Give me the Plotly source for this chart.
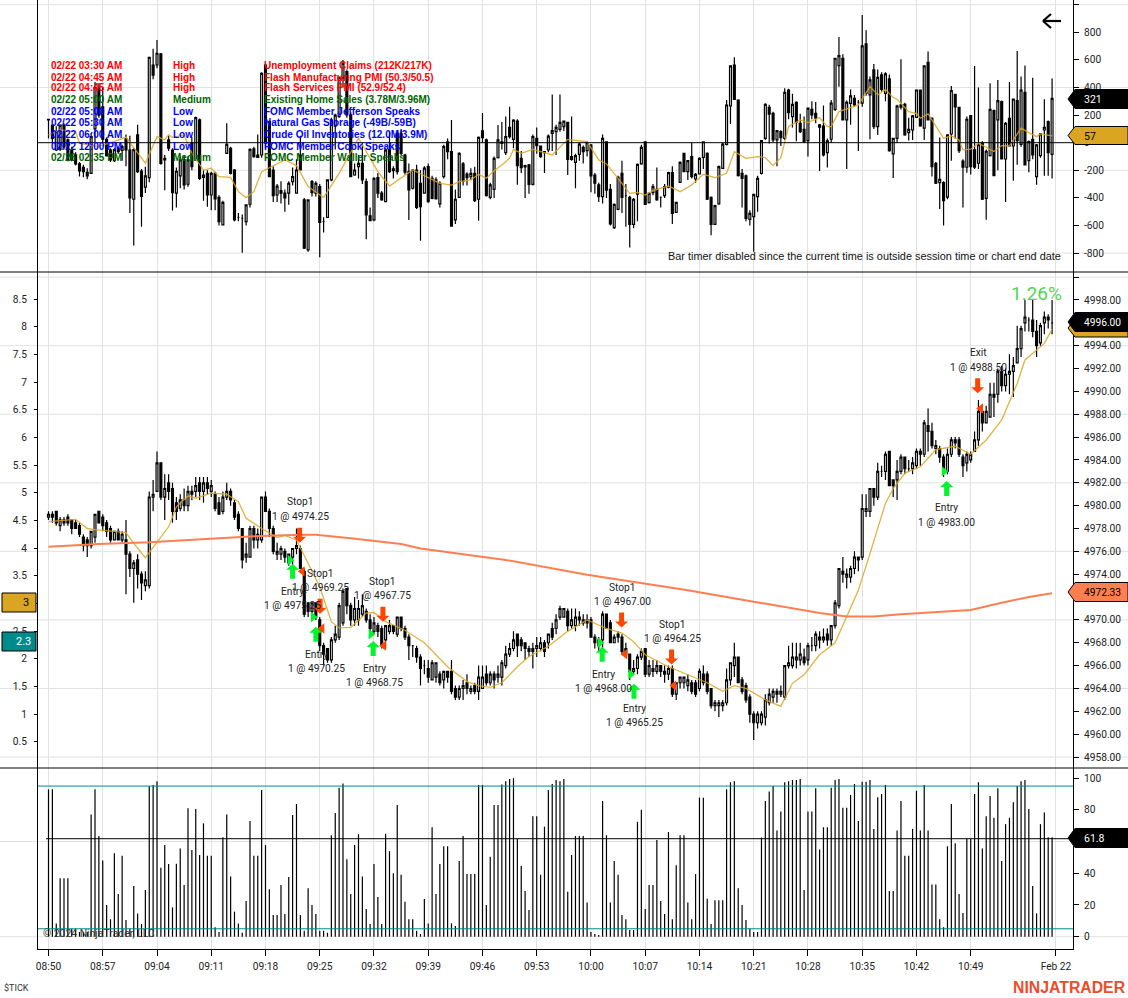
"""NinjaTrader style ES chart with $TICK panel and stochastic panel."""
import plotly.graph_objects as go

W, H = 1128, 998

mid_open = [
    4979,4979.25,4979.5,4978.25,4978.75,4979,4978.75,4978.5,4978.25,4977.25,
    4977,4976.5,4977.25,4979.5,4979,4978.5,4978,4977,4977.75,4977,
    4977,4975.75,4974.5,4975.25,4974,4973,4973,4980.75,4981.25,4983.75,
    4980.75,4982,4981.5,4980.25,4979.75,4980.5,4980,4981.25,4981.25,4982,
    4981.25,4982,4981.25,4981,4980.25,4979.5,4980.75,4981.25,4980.25,4979.25,
    4978,4975.5,4975.5,4978,4977,4977,4980.75,4979.5,4978,4975.75,
    4975.75,4976,4975.75,4975.5,4976.25,4976.25,4974.25,4971.5,4970.75,4971.5,
    4970,4967.75,4967.5,4966.5,4968.25,4968.5,4969.75,4972.75,4971.25,4970,
    4970,4970.5,4970.75,4970,4969,4969.5,4969.25,4968.25,4969,4969.5,
    4968.75,4970.25,4969.25,4968.5,4967.75,4967.5,4966.75,4966,4965.75,4964.75,
    4965,4965.25,4964.75,4965.5,4965.5,4964,4963.25,4964,4964.5,4963.75,
    4964.25,4963.75,4964,4965.25,4964.5,4965.25,4965,4965,4966,4967,
    4967.5,4968.75,4968.25,4968,4967.5,4967.5,4967.5,4967.5,4968,4968,
    4969.25,4969.25,4970.25,4970.25,4970.75,4969.5,4969.5,4970.25,4969.75,4970,
    4970,4968.5,4967.75,4968.25,4970.5,4969.75,4968,4968.75,4968.5,4967.5,
    4967,4965.5,4965.75,4966.75,4967.5,4965.25,4965.75,4965.5,4966,4965.5,
    4965.25,4965.75,4963.5,4964.5,4964.5,4964.25,4964.5,4964.5,4964,4965.25,
    4965.25,4964,4962.5,4962.5,4962.5,4962.75,4964.75,4966,4966.75,4964.75,
    4964.25,4963.25,4961.75,4961,4961,4961.5,4962.75,4963.25,4963.75,4963.5,
    4963.25,4966,4966,4966.5,4966.5,4966.75,4966.5,4967.75,4967.75,4968.5,
    4968.25,4968.75,4968.25,4969.5,4971.25,4974.25,4973.75,4973.75,4974.5,4975.5,
    4975.5,4979.5,4979.5,4981.5,4980.75,4983,4983,4984.75,4982.25,4982.25,
    4983,4984.25,4983.25,4983.25,4983.5,4984.75,4984.5,4987,4986.5,4985,
    4985,4984.25,4983,4984.5,4985.75,4985.75,4984.25,4983.75,4984,4984.75,
    4985.75,4988.25,4987.25,4987.75,4989.75,4989.75,4991.75,4990.5,4991.5,4991.75,
    4992.5,4993.75,4996,4996.25,4996.25,4995.25,4994.25,4996,4996.5,4996,
]
mid_close = [
    4979.25,4979,4978.5,4978.75,4978.5,4978.5,4978,4978,4977.5,4976.5,
    4976.5,4977.75,4979.25,4978.5,4978.25,4977.75,4977,4977.75,4977,4977.5,
    4975.75,4974.5,4975,4974,4973.25,4973.5,4980.75,4981,4983.75,4980.75,
    4981.5,4981.25,4979.5,4979.5,4980.5,4980,4981.25,4981,4981.75,4981.25,
    4982,4981.5,4981.75,4979.75,4979.25,4980.75,4981.25,4980.5,4979,4978,
    4975.25,4975.75,4978,4977,4977.5,4980.75,4979.5,4978,4976,4976,
    4976.25,4975.5,4975,4976.25,4976.5,4974.5,4970.5,4970.75,4971.5,4970.25,
    4967.75,4967,4966.5,4968.25,4968.75,4971.25,4972.5,4971.25,4970,4971,
    4971,4971.25,4970,4969.25,4969.75,4969,4967.75,4969.5,4969.5,4969,
    4970.25,4969.25,4968.5,4967.75,4967.75,4966.75,4965.75,4966,4965,4966.25,
    4966.25,4964.5,4965.5,4965,4963.75,4963.25,4964,4964.25,4964,4964,
    4963.75,4965,4965,4964.5,4965.25,4964.75,4965.25,4966.25,4967,4967.5,
    4968.25,4967.75,4967.75,4967.5,4967.25,4967.25,4967.75,4968,4967.25,4968.75,
    4968.5,4970,4971,4971,4969.5,4970,4970.25,4970,4970,4969.75,
    4968.5,4968,4968.25,4970.5,4969.25,4968,4968.5,4968.5,4967.25,4967,
    4965.5,4965.75,4966.75,4967.25,4965.25,4966,4965.5,4966,4965.5,4965.25,
    4965.75,4963.5,4964.5,4965,4965,4964.75,4963.75,4963.5,4965.5,4964.5,
    4963.75,4962.5,4962.75,4962.75,4962.75,4964.75,4966.25,4966.75,4964.5,4963.75,
    4963,4961.75,4961,4961.75,4961.75,4963,4963.5,4963.75,4963.5,4963.75,
    4966,4966.25,4966.75,4966.75,4967,4966.25,4967.75,4967.75,4968.75,4968.25,
    4968.5,4968.25,4969.5,4971.5,4974.5,4974,4974,4974.5,4975.5,4975.25,
    4979.75,4979.75,4981.5,4980.75,4983,4983,4984.5,4981.75,4981.75,4983,
    4984.25,4983.25,4983.25,4983.75,4984.75,4984.5,4987.25,4986.5,4985.25,4985.25,
    4984.25,4983.25,4984.5,4985.75,4985.5,4984.5,4983.5,4984.5,4984.5,4985.75,
    4988.25,4987.25,4988.25,4989.75,4989.5,4991.75,4990.5,4991.5,4991.75,4992.25,
    4993.75,4995.5,4996.5,4996.25,4995.25,4994,4995.75,4996.5,4996.25,4996,
]
mid_high = [
    4979.5,4979.5,4979.5,4979,4979,4979.25,4978.75,4978.75,4978.5,4977.5,
    4977.25,4977.75,4979.25,4979.5,4979.25,4978.75,4978.25,4977.75,4978,4977.75,
    4978.75,4976,4975.25,4975.75,4974.25,4974.25,4981.25,4982.25,4984.75,4983.75,
    4982.75,4982.75,4982,4980.75,4981,4981.5,4981.75,4981.75,4982.5,4982.5,
    4982.5,4982.5,4982.25,4981.25,4980.75,4981.25,4982,4981.5,4980.5,4979.5,
    4978,4976.75,4978.25,4978.25,4978,4980.75,4981.25,4979.75,4978.25,4976.75,
    4976.5,4976.25,4975.75,4976.25,4978,4976.5,4974.5,4971.5,4971.5,4971.5,
    4970.25,4968,4967.5,4968.5,4969.5,4971.5,4972.75,4972.75,4971.5,4972,
    4971.75,4972.25,4971,4970.5,4970.25,4969.75,4969.5,4969.5,4970,4969.5,
    4970.25,4970.25,4969.5,4968.75,4967.75,4967.75,4967,4966.5,4966.5,4966.5,
    4966.25,4965.5,4965.5,4965.5,4966.5,4964.25,4964.25,4964.75,4965.25,4964.25,
    4964.5,4966,4966,4966,4965.5,4965.5,4966,4966.5,4967.75,4968,
    4969,4968.75,4968.5,4968,4967.75,4968,4968.5,4968.5,4968.25,4968.75,
    4969.75,4970.5,4971.25,4971,4971,4971,4971,4970.75,4970.5,4970.5,
    4970.25,4968.75,4968.5,4970.75,4970.5,4970,4968.75,4969,4968.75,4968,
    4967,4966.5,4967,4967.5,4967.5,4966.5,4966.5,4966.5,4966,4966,
    4966,4966,4964.5,4965,4965,4965.25,4964.75,4964.75,4965.75,4966,
    4965.5,4964,4963,4963,4963,4965.75,4966.25,4968,4966.75,4965,
    4964.5,4963.5,4962,4962,4962,4963.5,4964,4964,4964,4964.25,
    4966,4967.75,4968,4968,4968,4967.5,4968,4968.5,4969,4969,
    4969.25,4969.25,4969.5,4971.75,4974.5,4975.5,4974.5,4974.75,4976,4975.5,
    4981,4981,4981.5,4981.5,4983.75,4983.5,4984.75,4984.75,4982.25,4984,
    4984.5,4984.25,4984,4984.25,4985,4985,4987.5,4988.5,4987.25,4985.75,
    4985.25,4984.5,4985,4986,4986,4986,4984.5,4984.75,4984.75,4986.5,
    4989.25,4988.75,4988.75,4990.75,4990.75,4992,4992.25,4992,4993.25,4993,
    4995.75,4995.75,4998,4996.5,4998,4996.25,4996,4997,4996.75,4998,
]
mid_low = [
    4978.75,4978.5,4978.25,4977.75,4978.25,4978.25,4977.5,4978,4977.25,4976,
    4975.5,4976.25,4976.75,4978.5,4977.75,4977.25,4976.75,4977,4977,4976.75,
    4972.25,4973.75,4971.5,4972.75,4971.75,4972.5,4972.75,4979.5,4981.25,4980.5,
    4978.75,4980.5,4978.5,4978.75,4979.5,4979.5,4979.5,4980.5,4980.75,4980.5,
    4980.25,4981,4980.75,4979.5,4979.25,4979.25,4980.5,4980,4978.75,4977.75,
    4974.5,4975,4975.5,4976.25,4976.25,4976.75,4979.5,4977.25,4975.75,4975.25,
    4975.25,4975,4974.75,4974.75,4975.75,4974.5,4970.25,4970.25,4970.25,4970,
    4967.25,4966,4966.25,4966.25,4968,4968.25,4969.5,4970.5,4969.5,4969.5,
    4969.5,4970.25,4969.75,4968.75,4968.75,4968.5,4967.5,4967.5,4968.75,4968.75,
    4968.5,4969,4968.25,4966.5,4966.75,4966.25,4964.25,4965.25,4964.5,4964.75,
    4964.5,4964.25,4964,4964.5,4963.5,4963,4963,4963,4963.5,4963.5,
    4963.5,4963,4964,4964.25,4964.25,4964,4964.5,4964.25,4965.75,4966.75,
    4967.25,4966.75,4967.25,4966.5,4966.75,4965.75,4966.75,4967.25,4966.75,4967.5,
    4968.25,4968.75,4970,4970.25,4969,4969.25,4969,4969.5,4969.5,4969.25,
    4968.5,4967.5,4967.25,4967.5,4969.25,4968,4968,4968,4967,4966.75,
    4964.75,4965.25,4965.25,4966.5,4965,4965,4965,4965.25,4965,4964.5,
    4964.75,4963.25,4963,4964,4964,4963.75,4963.5,4963.25,4963.75,4964.25,
    4963.5,4962.25,4962,4961.5,4962,4962.5,4964.25,4965,4964.5,4963.5,
    4962.75,4961,4959.5,4960.5,4960.75,4960.75,4962.5,4962.75,4962.75,4963.25,
    4963,4965.75,4965.75,4965.75,4966,4966,4966,4967.25,4967.25,4967.5,
    4968,4967.75,4967.75,4969.25,4971,4973.25,4972.75,4973.25,4974,4974.25,
    4975.25,4979,4979,4980,4980.5,4982.5,4982.25,4981.75,4980.75,4980.5,
    4982.75,4982.75,4983,4982.75,4983.25,4983.5,4984.25,4984.75,4985,4984.5,
    4983.75,4982.5,4982.75,4984.25,4985,4984.25,4982.5,4983,4983.75,4984.75,
    4985.25,4986.5,4987.25,4987.75,4987.75,4989,4990,4990,4989.75,4989.5,
    4992.5,4993,4995.25,4995.25,4994.75,4993,4994,4995,4995.5,4995,
]

top_open = [
    170,128,-53,-40,128,20,-53,-88,-153,-178,
    -215,-222,100,394,260,25,-53,-130,-40,-55,
    30,-53,-410,56,-205,-322,-253,563,563,643,
    -125,20,-53,-366,-241,-125,-301,0,-113,165,
    -251,-222,-379,-222,-396,-596,-77,-41,-198,-541,
    -548,-572,-446,-45,-89,-89,563,152,-198,-379,
    -347,-366,-366,-282,-366,-89,-415,-777,-282,-366,
    -318,-572,-541,-270,120,189,470,515,201,-234,
    -174,-150,-282,-530,-560,-253,-366,-427,-53,-202,
    68,68,-89,-210,-330,-198,-294,-366,-174,-258,
    -270,-444,-246,7,-65,-560,-396,-154,-227,-246,
    -222,-410,85,20,-396,-338,-109,7,-72,111,
    24,157,-113,-166,-161,-302,32,-24,-65,-53,
    68,80,97,116,147,-101,-142,-84,-34,-58,
    -17,-234,-306,-391,7,-338,-615,-483,-222,-384,
    -396,-592,-372,-154,7,-435,-362,-338,-396,-384,
    -323,-217,-505,-287,-77,-210,-101,-263,-227,-106,
    -77,-396,-592,-444,-186,-12,266,563,309,-222,
    -241,-555,-536,-391,-222,32,257,213,20,81,
    32,382,189,293,141,97,15,242,213,129,
    121,-72,25,242,559,612,165,285,322,293,
    286,716,346,527,117,491,358,462,-81,32,
    274,278,73,92,184,382,105,583,177,-149,
    -289,-289,-395,63,351,257,-133,-178,196,-52,
    -149,-4,-403,-93,233,165,298,-118,177,-24,
    305,-12,365,-130,25,-246,-93,92,153,-84,
]
top_close = [
    165,32,80,128,-30,-125,-125,-153,-205,-210,
    -240,44,400,200,25,-96,-125,-50,-65,-28,
    -53,-400,-50,-210,-390,-240,618,490,648,-150,
    -113,-40,-362,-207,-125,-306,-125,-174,181,-258,
    -234,-379,-222,-408,-572,-432,-12,-222,-560,-541,
    -548,-451,-48,-101,-106,503,-4,-246,-384,-314,
    -366,-400,-294,-246,-198,-198,-765,-415,-362,-294,
    -577,-572,-270,165,200,474,575,201,-246,-198,
    -150,-270,-524,-565,-258,-366,-415,-53,-210,-190,
    -210,-77,-214,-342,-198,-468,-463,-185,-427,-403,
    -408,-294,-29,-65,-604,-410,-77,-278,-253,-222,
    -420,39,36,-384,-306,-113,20,-5,44,44,
    164,-166,-181,-176,-302,44,-22,-101,-72,48,
    87,111,147,157,-121,-121,-94,-10,-65,0,
    -241,-294,-391,32,-343,-589,-447,-251,-396,-384,
    -592,-410,-157,-34,-447,-367,-318,-415,-396,-318,
    -217,-512,-432,-142,-210,-130,-246,-229,-113,7,
    -410,-592,-456,-174,-10,273,556,314,-239,-258,
    -548,-512,-374,-258,15,278,206,20,88,37,
    365,218,278,148,80,8,250,201,177,112,
    -89,13,286,612,631,165,293,339,274,293,
    701,358,455,117,474,387,498,-57,32,266,
    257,56,97,194,382,122,556,165,-174,-294,
    -265,-420,56,377,260,-57,-178,170,-173,-178,
    -15,-410,-62,242,-238,305,-118,141,-24,315,
    15,382,-161,8,-89,-16,64,112,-72,321,
]
top_high = [
    170,128,120,130,140,30,-30,-70,-140,-160,
    -185,70,440,430,400,40,-40,-40,-30,-15,
    60,50,-40,130,-190,-175,620,680,745,650,
    -90,50,-40,-180,-100,-90,-100,40,190,175,
    -200,-200,-210,-210,-380,-420,140,-30,-190,-510,
    -520,-450,-40,-30,60,510,570,160,-170,-300,
    -280,-340,-280,-180,-120,50,-400,-410,-270,-280,
    -300,-540,-265,180,210,480,600,530,220,-150,
    -90,0,-260,-470,-250,-220,-350,-40,80,-170,
    90,100,-80,-150,-190,-160,-200,-170,-150,-240,
    -250,-280,-15,30,165,-340,-70,-140,-215,-185,
    -175,45,215,30,-290,-100,128,150,190,260,
    170,170,-60,-160,-155,60,110,-20,-60,60,
    350,130,350,160,150,190,-80,0,-20,10,
    -10,-220,-290,60,10,-300,-440,-240,-130,-300,
    -385,-400,-150,-15,10,-360,-300,-180,-390,-300,
    -210,-170,-430,-135,-75,-125,0,-220,-105,10,
    -70,-390,-450,-165,0,310,560,620,315,-190,
    -230,-490,-370,-240,20,285,275,225,90,90,
    395,390,355,300,210,190,255,300,295,135,
    270,30,310,615,765,640,305,385,345,310,
    925,815,480,570,530,510,510,495,35,275,
    605,290,180,200,385,385,560,660,185,-140,
    37,-280,60,410,355,260,-120,190,200,555,
    400,10,-50,430,240,455,305,150,440,320,
    665,480,560,15,470,-10,70,315,160,466,
]
top_low = [
    30,-5,-60,-60,-50,-135,-135,-165,-245,-250,
    -265,-225,0,180,0,-100,-140,-140,-80,-130,
    -170,-510,-745,-220,-610,-365,-287,460,540,-160,
    -345,-60,-492,-470,-330,-340,-320,-200,-130,-270,
    -420,-465,-490,-490,-600,-600,-77,-230,-570,-570,
    -798,-600,-470,-110,-110,-110,-40,-250,-430,-430,
    -440,-500,-450,-310,-370,-200,-770,-790,-390,-390,
    -830,-650,-545,-280,-50,180,400,180,-250,-240,
    -260,-300,-700,-570,-570,-400,-420,-430,-220,-260,
    -230,-90,-230,-560,-340,-480,-710,-370,-435,-410,
    -410,-470,-260,-120,-610,-590,-400,-310,-310,-270,
    -430,-565,0,-390,-410,-400,-115,-50,-90,30,
    -40,-305,-220,-400,-370,-310,-80,-110,-220,-70,
    -60,-90,80,85,-235,-130,-330,-130,-150,-100,
    -360,-370,-430,-440,-400,-600,-625,-490,-510,-610,
    -760,-620,-570,-160,-450,-440,-380,-420,-470,-400,
    -330,-590,-510,-290,-215,-270,-260,-290,-230,-190,
    -415,-670,-595,-450,-190,-20,135,310,-245,-470,
    -570,-600,-790,-500,-230,20,-5,0,-170,-24,
    20,170,110,10,70,0,-100,170,140,-205,
    -100,-180,0,230,405,160,-190,130,260,-60,
    260,340,25,100,55,370,300,-65,-255,0,
    240,50,15,20,180,115,20,160,-245,-300,
    -480,-600,-410,-130,30,-75,-470,-218,-230,-190,
    -190,-415,-558,-100,-240,-200,-120,-430,-30,-275,
    -160,-30,-165,-215,-120,-305,-110,-240,-240,-260,
]

stoch = [
    93,93,8.4,36.8,36.8,36.8,5,5,3,3,
    3,77,93,63.5,48,20,11,52.6,27,51,
    10.5,5,32,14.7,8,29.4,95,95.7,98,43.5,
    57.8,45.8,18.5,46,55.7,32.6,81,54.7,80.5,51.5,
    71.5,51,51,6,3,62.7,77,38,15.8,8.4,
    2.5,22.5,73,51,51,92.5,57.8,30,13.7,13.7,
    32.6,14.3,37.6,76.8,83.7,13.7,3.8,30.5,20,14.3,
    3.8,3.8,2.5,64,78,94,96.7,48.8,27,57.8,
    64.6,38,17.5,8,45.8,25,8,65,54,40,
    83,39,22,11,11,3.8,1.7,23.8,8.4,69,
    27,45.8,57,57,8.4,6.7,47.7,63.5,39.5,39.5,
    39.5,95.7,95.7,20,50.5,83,83,96,98,99.5,
    100,61.6,44.6,28.8,16.8,76,76,39,69.4,92.5,
    96.3,98.8,98,99.5,28.4,51.5,63.5,63.5,63.5,21.5,
    3,1.7,1,85.6,64,21.5,47.7,39,13.7,11,
    4.2,4.2,72.5,80,17.5,32.6,32.6,61,22.5,14.3,
    66,11,45,64,64,21.5,11,39.5,87.7,87.7,
    24,8,23,23,23,93,97.4,98,30.5,20,
    10.5,5,3,3,62.5,85.6,91.5,95,67,79,
    97.4,98,98.8,98.8,99.5,29.4,79,79,93.6,55,
    69,69,94,98.8,99.5,81.4,81.4,89.4,96.3,73,
    97.8,97.8,98.8,68,88,90,95.7,28.8,28.8,67,
    85.6,51,51,68,92,67,95.7,67,33,33,
    11,6,57,83.7,59,27,15,61.6,61.6,90,
    97.4,55.7,76,88.7,75,93.6,47.7,71,75,84.8,
    95,98,98.8,80.5,32,14.7,71,78.4,62.7,62.7,
]

# bar number, value pairs for the moving averages
mid_gold_x = [0,7,10,12,20,22,25,28,31,33,36,38,42,46,49,51,55,59,61,64,67,70,73,75,78,82,84,87,92,97,
              103,108,111,114,117,121,124,129,134,139,144,148,151,154,160,165,170,174,177,180,185,189,
              192,195,199,203,206,209,212,216,218,221,225,229,234,238,242,246,250,252,257,259]
mid_gold_y = [4978.6,4978.8,4978,4977.9,4977.65,4976.7,4975.45,4976.85,4978.15,4979.9,4980.85,4980.65,4981.1,4981,
              4980.35,4978.9,4978,4977.2,4977.4,4977,4975,4972.9,4969.85,4969.3,4969.35,4970.6,4970.65,4969.85,
              4969.1,4968,4965.9,4964.6,4964.25,4964.1,4964.5,4965.9,4966.8,4967.7,4969,4970,4969.25,4968.85,
              4968.1,4966.95,4965.9,4965.2,4964.5,4963.75,4964.25,4964,4963,4962.43,4964.45,4965.2,4966.95,
              4968,4970.3,4972.6,4975.8,4980.2,4981.5,4982.85,4983.4,4984.9,4985.2,4984.5,4985.75,4987.5,
              4990.7,4992.75,4994.2,4995.45]
mid_orange_x = [0,13,26,39,52,65,69,78,82,91,96,118,139,165,182,199,206,213,220,238,246,253,259]
mid_orange_y = [4976.4,4976.65,4976.8,4977.05,4977.3,4977.45,4977.45,4977.15,4977,4976.65,4976.25,4975.25,4973.95,
                4972.6,4971.6,4970.6,4970.3,4970.3,4970.5,4970.87,4971.5,4972,4972.33]
top_gold_x = [0,3,7,8,13,20,25,28,30,31,32,35,37,40,42,44,47,49,51,53,55,61,64,67,71,75,80,85,88,94,101,
              104,106,109,111,113,115,117,119,120,122,125,127,130,134,137,139,142,144,147,150,152,154,156,
              160,163,166,169,172,175,177,180,183,185,187,189,191,194,196,199,201,202,204,209,212,214,216,
              218,219,222,224,225,227,231,233,235,236,238,240,244,246,248,251,253,255,256,259]
top_gold_y = [56,92,80,-4,-29,39,-149,44,20,56,39,56,-77,-198,-185,-246,-251,-355,-398,-355,-210,-125,-166,-318,
              -398,-222,32,-210,-314,-198,-295,-307,-282,-270,-229,-258,-203,-162,-113,-48,-77,-48,-65,-89,24,15,
              7,-125,-154,-258,-367,-360,-379,-348,-314,-355,-307,-229,-253,-222,-65,-113,-101,-108,-166,-108,117,
              165,146,182,117,117,225,274,407,346,387,327,315,225,213,177,209,32,49,20,-52,-47,-4,-64,-21,-23,105,
              73,44,64,49]

# trade executions, price and bar number
entry_x = [62.3,68.3,83.2,142.3,150.2,231.1]
entry_price = [4975.25,4970.25,4968.75,4968,4965.25,4983]
exit_x = [65.5,70.6,86.5,148.8,161.4,240.6]
exit_price = [4974.25,4969.25,4967.75,4967,4964.25,4988.5]
entry_arrow_x = [63,69,83.8,142.9,151.1,231.8]
entry_arrow_y = [4974.25,4968.75,4967.5,4967,4963.75,4981.5]
exit_arrow_x = [64.8,70.1,86.3,147.9,160.8,239.8]
exit_arrow_y = [4977.4,4971.2,4970.5,4970,4966.75,4990.5]

time_ticks = [0,14,28,42,56,70,84,98,112,126,140,154,168,182,196,210,224,238,260]
time_labels = ["08:50","08:57","09:04","09:11","09:18","09:25","09:32","09:39","09:46","09:53",
               "10:00","10:07","10:14","10:21","10:28","10:35","10:42","10:49","Feb 22"]
top_ticks = [1000,800,600,400,200,0,-200,-400,-600,-800]
top_tick_text = ["","800","600","400","200","0","-200","-400","-600","-800"]
top_grid = [1000,400,-200,-800]
mid_ticks = [5000 - 2 * n for n in range(22)]
# the labels behind the last price and moving average tags stay blank
mid_tick_text = ["" if v in (5000, 4996, 4972) else f"{v:.2f}" for v in mid_ticks]
mid_grid = [5000,4994,4988,4982,4976,4970,4964,4958]
left_ticks = [0.5,1,1.5,2,2.5,3,3.5,4,4.5,5,5.5,6,6.5,7,7.5,8,8.5]
left_tick_text = ["0.5","1","1.5","2","2.5","","3.5","4","4.5","5","5.5","6","6.5","7","7.5","8","8.5"]
left_values = [3,2.3]
stoch_ticks = [100,80,60,40,20,0]
stoch_tick_text = ["100","80","","40","20","0"]
stoch_grid = [60,0]
stoch_levels = [95,5]

news_time = ["02/22 03:30 AM","02/22 04:45 AM","02/22 04:45 AM","02/22 05:00 AM","02/22 05:00 AM",
             "02/22 05:30 AM","02/22 06:00 AM","02/22 12:00 PM","02/26 02:35 PM"]
news_level = ["High","High","High","Medium","Low","Low","Low","Low","Medium"]
news_title = ["Unemployment Claims (212K/217K)","Flash Manufacturing PMI (50.3/50.5)","Flash Services PMI (52.9/52.4)",
              "Existing Home Sales (3.78M/3.96M)","FOMC Member Jefferson Speaks","Natural Gas Storage (-49B/-59B)",
              "Crude Oil Inventories (12.0M/3.9M)","FOMC Member Cook Speaks","FOMC Member Waller Speaks"]
news_y = [65,77,88,100,111,123,134,146,157]
news_color = {"High": "#ff0000", "Medium": "#006400", "Low": "#0000ff"}

trade_labels = [
    (300,502,"Stop1"),(300,516,"1 @ 4974.25"),(320,573,"Stop1"),(320,587,"1 @ 4969.25"),
    (382,581,"Stop1"),(382,595,"1 @ 4967.75"),(293,591,"Entry"),(293,605,"1 @ 4975.25"),
    (316,654,"Entry"),(316,668,"1 @ 4970.25"),(374,668,"Entry"),(374,682,"1 @ 4968.75"),
    (622,587,"Stop1"),(622,601,"1 @ 4967.00"),(672,624,"Stop1"),(672,638,"1 @ 4964.25"),
    (603,674,"Entry"),(603,688,"1 @ 4968.00"),(634,708,"Entry"),(634,722,"1 @ 4965.25"),
    (978,353,"Exit"),(978,367,"1 @ 4988.50"),(947,508,"Entry"),(947,522,"1 @ 4983.00"),
]

FONT = "Roboto"
INK = "#222222"
GOLD = "#DAA520"
CORAL = "#FF7F50"
TEAL = "#008B8B"
GREEN = "#00F52A"
RED = "#FF4500"
TICK_SIZE = 10.2


def px_x(x):
    return x / W


def px_y(y):
    return 1 - y / H


def text_at(x, y, text, size=10.5, color=INK, anchor="center", family=FONT, bold=False):
    if bold:
        text = f"<b>{text}</b>"
    return dict(xref="paper", yref="paper", x=px_x(x), y=px_y(y), text=text, showarrow=False,
                xanchor=anchor, yanchor="middle", font=dict(size=size, color=color, family=family))


def poly(points, fill, line="black", width=1):
    path = "M " + " L ".join(f"{px_x(x):.5f} {px_y(y):.5f}" for x, y in points) + " Z"
    return dict(type="path", xref="paper", yref="paper", path=path, fillcolor=fill,
                line=dict(color=line, width=width), layer="above")


def price_tag(y, fill, h=19):
    return poly([(1068, y), (1075, y - h / 2), (1128, y - h / 2), (1128, y + h / 2), (1075, y + h / 2)], fill)


def hline(y, yref, color, width=1, x0=0, x1=1, layer="below"):
    return dict(type="line", xref="paper", yref=yref, x0=x0, x1=x1, y0=y, y1=y,
                line=dict(color=color, width=width), layer=layer)


def arrow(x, y, up, color):
    s = 1 if up else -1
    pts = [(0, 7.5), (6.5, 1.5), (2.5, 1.5), (2.5, -7.5), (-2.5, -7.5), (-2.5, 1.5), (-6.5, 1.5)]
    path = "M " + " L ".join(f"{a} {s * b}" for a, b in pts) + " Z"
    return dict(type="path", xref="x", yref="y2", xsizemode="pixel", ysizemode="pixel",
                xanchor=x, yanchor=y, path=path, fillcolor=color, line=dict(width=0), layer="above")


bars = list(range(260))
fig = go.Figure()

candle_style = dict(
    x=bars, whiskerwidth=0, showlegend=False, hoverinfo="skip",
    increasing=dict(line=dict(color="black", width=1.2), fillcolor="white"),
    decreasing=dict(line=dict(color="black", width=1.2), fillcolor="black"),
)
gold_line = dict(color="rgba(218,165,32,0.85)", width=1.3)
fig.add_trace(go.Candlestick(open=top_open, high=top_high, low=top_low, close=top_close, yaxis="y", **candle_style))
fig.add_trace(go.Scatter(x=top_gold_x, y=top_gold_y, yaxis="y", mode="lines", showlegend=False, line=gold_line))

fig.add_trace(go.Candlestick(open=mid_open, high=mid_high, low=mid_low, close=mid_close, yaxis="y2", **candle_style))
fig.add_trace(go.Scatter(x=mid_gold_x, y=mid_gold_y, yaxis="y2", mode="lines", showlegend=False, line=gold_line))
fig.add_trace(go.Scatter(x=mid_orange_x, y=mid_orange_y, yaxis="y2", mode="lines", showlegend=False,
                         line=dict(color=CORAL, width=2)))
fig.add_trace(go.Scatter(x=entry_x, y=entry_price, yaxis="y2", mode="markers", showlegend=False,
                         marker=dict(symbol="triangle-right", size=9, color=GREEN)))
fig.add_trace(go.Scatter(x=exit_x, y=exit_price, yaxis="y2", mode="markers", showlegend=False,
                         marker=dict(symbol="triangle-left", size=9, color=RED)))
# only there so the left axis of the price panel gets drawn
fig.add_trace(go.Scatter(x=[0, 0], y=left_values, yaxis="y4", mode="markers", showlegend=False,
                         marker=dict(opacity=0)))

# thin stems from zero, error bars stay one pixel wide where go.Bar rounds up
fig.add_trace(go.Scatter(x=bars, y=stoch, yaxis="y3", mode="markers", showlegend=False,
                         marker=dict(size=1, opacity=0),
                         error_y=dict(type="data", symmetric=False, array=[0] * len(stoch), arrayminus=stoch,
                                      color="black", thickness=1.2, width=0)))

shapes = []
for v in top_grid:
    shapes.append(hline(v, "y", "#e2e2e2"))
for v in mid_grid:
    shapes.append(hline(v, "y2", "#e2e2e2"))
for v in stoch_grid:
    shapes.append(hline(v, "y3", "#e2e2e2"))
left, right = px_x(38), px_x(1073)
shapes.append(hline(0, "y", "black", 1, left, right, "above"))
for v in stoch_levels:
    shapes.append(hline(v, "y3", TEAL, 1, left, right, "above"))
shapes.append(hline(61.8, "y3", "black", 1, px_x(46), px_x(1068), "above"))

# panel dividers run the full window width
for y in (272, 768):
    shapes.append(dict(type="line", xref="paper", yref="paper", x0=0, x1=1, y0=px_y(y), y1=px_y(y),
                       line=dict(color="black", width=1), layer="above"))

for x, y in zip(entry_arrow_x, entry_arrow_y):
    shapes.append(arrow(x, y, True, GREEN))
for x, y in zip(exit_arrow_x, exit_arrow_y):
    shapes.append(arrow(x, y, False, RED))

shapes += [price_tag(99, "black"), price_tag(135.5, GOLD, 18)]
shapes += [price_tag(328, GOLD, 18), price_tag(322, "black"), price_tag(592, CORAL), price_tag(838, "black")]
shapes.append(poly([(2, 593), (36, 593), (36, 612), (2, 612)], GOLD))
shapes.append(poly([(2, 632), (36, 632), (36, 651), (2, 651)], TEAL))

# back arrow in the top corner
for seg in ([(1043, 21), (1061, 21)], [(1051, 14), (1043, 21)], [(1043, 21), (1051, 28)]):
    shapes.append(dict(type="line", xref="paper", yref="paper", x0=px_x(seg[0][0]), y0=px_y(seg[0][1]),
                       x1=px_x(seg[1][0]), y1=px_y(seg[1][1]), line=dict(color="black", width=2.2), layer="above"))

# annotation boxes add about 2px of padding, the x values below allow for it
annotations = []
for y, t, lvl, title in zip(news_y, news_time, news_level, news_title):
    c = news_color[lvl]
    annotations.append(text_at(49, y, t, 10, c, "left", "Liberation Sans", True))
    annotations.append(text_at(171, y, lvl, 10, c, "left", "Liberation Sans", True))
    annotations.append(text_at(262, y, title, 10, c, "left", "Liberation Sans", True))
for x, y, t in trade_labels:
    annotations.append(text_at(x, y, t, 10.2))
annotations += [
    text_at(1063, 256, "Bar timer disabled since the current time is outside session time or chart end date",
            10.9, "#111111", "right", "Liberation Sans"),
    text_at(1036, 294, "1.26%", 19, "#4FD84F"),
    text_at(1082, 99, "321", 10.5, "white", "left"),
    text_at(1082, 136, "57", 10.5, "black", "left"),
    text_at(1082, 322, "4996.00", 10.2, "white", "left"),
    text_at(1082, 592, "4972.33", 10.2, "black", "left"),
    text_at(1082, 838, "61.8", 10.5, "white", "left"),
    text_at(26, 602.5, "3", 11, "black"),
    text_at(23, 641.5, "2.3", 11, "white"),
    text_at(41, 933, "© 2024 NinjaTrader, LLC", 10.4, "#333333", "left"),
    text_at(2, 988, "$TICK", 9, "#333333", "left"),
    text_at(1128, 987, "NINJATRADER", 15.8, "#EE4B2B", "right", "Liberation Sans", True),
]

y_common = dict(showgrid=False, zeroline=False, showline=True, linecolor="black", linewidth=1, mirror=True,
                ticks="outside", ticklen=5, tickcolor="black", side="right", anchor="x", ticklabelstandoff=3,
                tickfont=dict(size=TICK_SIZE, color=INK, family=FONT), tickmode="array", fixedrange=True)

fig.update_layout(
    width=W, height=H, autosize=False, margin=dict(l=0, r=0, t=0, b=0, autoexpand=False),
    paper_bgcolor="white", plot_bgcolor="white", showlegend=False, hovermode=False,
    shapes=shapes, annotations=annotations,
    xaxis=dict(domain=[px_x(38), px_x(1073)], range=[-2.71, 264.4], anchor="y3", rangeslider=dict(visible=False),
               tickmode="array", tickvals=time_ticks, ticktext=time_labels, ticks="outside", ticklen=6,
               ticklabelstandoff=2, tickcolor="black", showgrid=True, gridcolor="#e2e2e2", gridwidth=1,
               zeroline=False, showline=True, linecolor="black", linewidth=1,
               tickfont=dict(size=TICK_SIZE, color=INK, family=FONT)),
    yaxis=dict(domain=[px_y(272), 1], range=[-937, 1034], tickvals=top_ticks, ticktext=top_tick_text, **y_common),
    yaxis2=dict(domain=[px_y(768), px_y(272)], range=[4957.04, 5000.45], tickvals=mid_ticks,
                ticktext=mid_tick_text, **y_common),
    yaxis3=dict(domain=[px_y(949), px_y(768)], range=[-7.76, 106.4], tickvals=stoch_ticks,
                ticktext=stoch_tick_text, **y_common),
    yaxis4=dict(overlaying="y2", side="left", anchor="x", range=[0.024, 8.988], tickmode="array",
                tickvals=left_ticks, ticktext=left_tick_text, ticks="outside", ticklen=3, tickcolor="black",
                ticklabelstandoff=5, showgrid=False, zeroline=False, showline=False,
                tickfont=dict(size=TICK_SIZE, color=INK, family=FONT)),
)

# the page default body margin would push the figure 8px off the window
fig.write_html("out.html", post_script="document.body.style.margin='0';", config=dict(displayModeBar=False))
